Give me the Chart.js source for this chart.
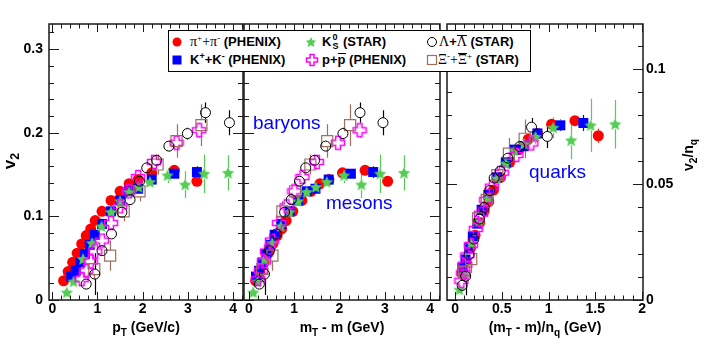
<!DOCTYPE html>
<html>
<head>
<meta charset="utf-8">
<script src="https://cdn.jsdelivr.net/npm/chart.js@4.4.1/dist/chart.umd.min.js"></script>
<style>
html,body{margin:0;padding:0;background:#fff;overflow:hidden;}
#wrap{position:relative;width:721px;height:354px;overflow:hidden;background:#fff;}
#wrap canvas.ch{position:absolute;left:0;top:0;}
.lbl{position:absolute;white-space:nowrap;font-family:"Liberation Sans",Arial,sans-serif;font-weight:bold;color:#000;}
.lbl sub{font-size:0.72em;vertical-align:-0.35em;line-height:0;}
.rot{transform:rotate(-90deg);text-align:center;}
.note{position:absolute;white-space:nowrap;font-family:"Liberation Sans",Arial,sans-serif;font-size:19px;line-height:19px;color:#0000ff;}
#legend{position:absolute;left:168px;top:30px;width:363px;height:42px;border:1.5px solid #000;background:#fff;box-sizing:border-box;}
.lt{position:absolute;white-space:nowrap;font-family:"Liberation Sans",Arial,sans-serif;font-weight:bold;font-size:13px;line-height:16px;height:16px;color:#000;}
.lt sup{font-size:9px;vertical-align:5px;line-height:0;}
.lt .g{font-family:"Liberation Serif","Times New Roman",serif;font-weight:normal;font-size:14px;}
.lt .ov{display:inline-block;border-top:1.4px solid #000;line-height:12px;}
.lt .ovp{display:inline-block;border-top:1.6px solid #000;line-height:11px;}
.ss{display:inline-block;position:relative;width:8px;height:10px;vertical-align:0;}
.ss span{position:absolute;left:1px;font-size:9px;line-height:9px;}
.mk{position:absolute;}
</style>
</head>
<body>
<div id="wrap">
  <canvas id="c1" class="ch" width="721" height="354"></canvas>
  <canvas id="c2" class="ch" width="721" height="354"></canvas>
  <canvas id="c3" class="ch" width="721" height="354"></canvas>

  <div class="note" style="left:253px;top:113px;">baryons</div>
  <div class="note" style="left:326px;top:193px;">mesons</div>
  <div class="note" style="left:529px;top:162px;">quarks</div>

  <div class="lbl rot" style="left:-20px;top:150px;width:60px;height:22px;line-height:22px;font-size:17px;">v<sub>2</sub></div>
  <div class="lbl rot" style="left:658px;top:144px;width:60px;height:22px;line-height:22px;font-size:14px;">v<sub>2</sub>/n<sub>q</sub></div>
  <div class="lbl" style="left:66px;top:318px;width:160px;text-align:center;font-size:14px;line-height:18px;">p<sub>T</sub> (GeV/c)</div>
  <div class="lbl" style="left:262px;top:318px;width:160px;text-align:center;font-size:14px;line-height:18px;">m<sub>T</sub> - m (GeV)</div>
  <div class="lbl" style="left:455px;top:318px;width:180px;text-align:center;font-size:14px;line-height:18px;">(m<sub>T</sub> - m)/n<sub>q</sub> (GeV)</div>

  <div id="legend"></div>
  <div class="lt" style="left:190px;top:34px;"><span class="g">&pi;<sup>+</sup>+&pi;<sup>-</sup></span> (PHENIX)</div>
  <div class="lt" style="left:190px;top:52px;">K<sup>+</sup>+K<sup>-</sup> (PHENIX)</div>
  <div class="lt" style="left:322px;top:34px;">K<span class="ss"><span style="top:-3px;">0</span><span style="top:6px;">S</span></span> (STAR)</div>
  <div class="lt" style="left:322px;top:52px;">p+<span class="ovp">p</span> (PHENIX)</div>
  <div class="lt" style="left:439px;top:34px;"><span class="g">&Lambda;</span>+<span class="g ov">&Lambda;</span> (STAR)</div>
  <div class="lt" style="left:438px;top:52px;"><span class="g">&Xi;<sup>-</sup>+<span class="ov">&Xi;</span><sup>+</sup></span> (STAR)</div>
</div>
<script>
// ================= DATA =================
// pi+ + pi- (PHENIX)
const pionPt    = [0.25,0.35,0.45,0.55,0.65,0.75,0.85,0.95,1.1,1.3,1.5,1.7,1.9,2.2,2.7,3.2];
const pionV2    = [0.023,0.034,0.045,0.056,0.067,0.077,0.085,0.095,0.106,0.119,0.130,0.139,0.144,0.152,0.155,0.142];
const pionErr   = [0.002,0.002,0.002,0.002,0.002,0.002,0.002,0.002,0.002,0.002,0.002,0.002,0.003,0.003,0.004,0.006];
const pionKet   = [0.147,0.237,0.332,0.428,0.525,0.623,0.722,0.821,0.969,1.168,1.367,1.566,1.766,2.065,2.564,3.063];
const pionKetNq = [0.074,0.119,0.166,0.214,0.263,0.312,0.361,0.411,0.485,0.584,0.684,0.783,0.883,1.033,1.282,1.532];
const pionV2Nq  = [0.0115,0.017,0.0225,0.028,0.0335,0.0385,0.0425,0.0475,0.053,0.0595,0.065,0.0695,0.072,0.076,0.0775,0.071];
const pionErrNq = [0.001,0.001,0.001,0.001,0.001,0.001,0.001,0.001,0.001,0.001,0.001,0.001,0.0015,0.0015,0.002,0.003];

// K+ + K- (PHENIX)
const kaonPt    = [0.42,0.52,0.62,0.72,0.83,0.94,1.1,1.3,1.5,1.7,1.9,2.2,2.7,3.2];
const kaonV2    = [0.028,0.035,0.045,0.055,0.066,0.078,0.091,0.106,0.119,0.130,0.133,0.144,0.151,0.153];
const kaonErr   = [0.003,0.003,0.003,0.003,0.003,0.003,0.003,0.003,0.003,0.003,0.004,0.004,0.005,0.007];
const kaonKet   = [0.155,0.223,0.299,0.379,0.472,0.568,0.712,0.897,1.086,1.277,1.469,1.761,2.251,2.744];
const kaonKetNq = [0.078,0.112,0.150,0.190,0.236,0.284,0.356,0.449,0.543,0.639,0.735,0.881,1.126,1.372];
const kaonV2Nq  = [0.014,0.0175,0.0225,0.0275,0.033,0.039,0.0455,0.053,0.0595,0.065,0.0665,0.072,0.0755,0.0765];
const kaonErrNq = [0.0015,0.0015,0.0015,0.0015,0.0015,0.0015,0.0015,0.0015,0.0015,0.0015,0.002,0.002,0.0025,0.0035];

// K0s (STAR)
const k0Pt    = [0.32,0.47,0.68,0.88,1.09,1.30,1.50,1.70,1.91,2.16,2.55,2.94,3.36,3.89];
const k0V2    = [0.009,0.022,0.049,0.068,0.088,0.105,0.118,0.129,0.135,0.141,0.149,0.138,0.151,0.152];
const k0Err   = [0.004,0.003,0.003,0.003,0.003,0.003,0.003,0.004,0.005,0.006,0.009,0.016,0.023,0.021];
const k0Ket   = [0.094,0.187,0.345,0.513,0.701,0.894,1.083,1.274,1.476,1.719,2.100,2.484,2.899,3.424];
const k0KetNq = [0.047,0.094,0.173,0.257,0.351,0.447,0.542,0.637,0.738,0.860,1.050,1.242,1.450,1.712];
const k0V2Nq  = [0.0045,0.011,0.0245,0.034,0.044,0.0525,0.059,0.0645,0.0675,0.0705,0.0745,0.069,0.0755,0.076];
const k0ErrNq = [0.002,0.0015,0.0015,0.0015,0.0015,0.0015,0.0015,0.002,0.0025,0.003,0.0045,0.008,0.0115,0.0105];

// p + pbar (PHENIX)
const protonPt    = [0.65,0.75,0.85,0.95,1.1,1.3,1.5,1.7,1.9,2.25,2.75,3.25];
const protonV2    = [0.025,0.035,0.046,0.058,0.071,0.092,0.112,0.130,0.147,0.165,0.188,0.203];
const protonErr   = [0.003,0.003,0.003,0.003,0.003,0.003,0.003,0.004,0.004,0.005,0.007,0.009];
const protonKet   = [0.203,0.263,0.328,0.397,0.508,0.665,0.831,1.003,1.181,1.499,1.967,2.444];
const protonKetNq = [0.068,0.088,0.109,0.132,0.169,0.222,0.277,0.334,0.394,0.500,0.656,0.815];
const protonV2Nq  = [0.0083,0.0117,0.0153,0.0193,0.0237,0.0307,0.0373,0.0433,0.049,0.055,0.0627,0.0677];
const protonErrNq = [0.001,0.001,0.001,0.001,0.001,0.001,0.001,0.0013,0.0013,0.0017,0.0023,0.003];

// Lambda + Lambdabar (STAR)
const lambdaPt    = [0.75,0.94,1.10,1.31,1.54,1.72,1.93,2.09,2.31,2.58,2.99,3.39,3.92];
const lambdaV2    = [0.019,0.031,0.059,0.079,0.105,0.120,0.142,0.158,0.167,0.184,0.199,0.224,0.212];
const lambdaErr   = [0.004,0.025,0.004,0.004,0.004,0.004,0.004,0.005,0.006,0.006,0.007,0.012,0.015];
const lambdaKet   = [0.229,0.343,0.451,0.605,0.786,0.935,1.114,1.253,1.450,1.695,2.076,2.453,2.960];
const lambdaKetNq = [0.076,0.114,0.150,0.202,0.262,0.312,0.371,0.418,0.483,0.565,0.692,0.818,0.987];
const lambdaV2Nq  = [0.0063,0.0103,0.0197,0.0263,0.035,0.040,0.0473,0.0527,0.0557,0.0613,0.0663,0.0747,0.0707];
const lambdaErrNq = [0.0013,0.0083,0.0013,0.0013,0.0013,0.0013,0.0013,0.0017,0.002,0.002,0.0023,0.004,0.005];

// Xi- + Xibar+ (STAR)
const xiPt    = [0.93,1.28,1.58,1.93,2.33,2.75,3.30];
const xiV2    = [0.037,0.053,0.106,0.130,0.162,0.190,0.209];
const xiErr   = [0.012,0.018,0.012,0.012,0.012,0.020,0.025];
const xiKet   = [0.294,0.518,0.738,1.018,1.357,1.729,2.233];
const xiKetNq = [0.098,0.173,0.246,0.339,0.452,0.576,0.744];
const xiV2Nq  = [0.0123,0.0177,0.0353,0.0433,0.054,0.0633,0.0697];
const xiErrNq = [0.004,0.006,0.004,0.004,0.004,0.0067,0.0083];

// axis tick settings
const panel1XTicks = {min:-0.073, max:4.22, step:1, minor:0.2};
const panel2XTicks = {min:-0.11, max:4.22, step:1, minor:0.2};
const panel3XTicks = {min:-0.086, max:2.01, step:0.5, minor:0.1};
const v2Ticks   = {min:0, max:0.33, step:0.1, minor:0.02};
const v2NqTicks = {min:0, max:0.1193, step:0.05, minor:0.01};

// ================= STYLE =================
const FONT = '"Liberation Sans", Arial, Helvetica, sans-serif';
const RED='#ff0000', BLUE='#0000ff', GREEN='#55cc55', MAG='#ff00ff', BLACK='#000000', BROWN='#9a7060';

function starPath(g, cx, cy, R, ratio){
  g.beginPath();
  for (let i=0;i<10;i++){
    const r = (i%2) ? R*ratio : R;
    const a = -Math.PI/2 + i*Math.PI/5;
    const px = cx + r*Math.cos(a), py = cy + r*Math.sin(a);
    if (i===0) g.moveTo(px,py); else g.lineTo(px,py);
  }
  g.closePath();
}
function crossPath(g, cx, cy, R, a){
  const p=[[-a,-R],[a,-R],[a,-a],[R,-a],[R,a],[a,a],[a,R],[-a,R],[-a,a],[-R,a],[-R,-a],[-a,-a]];
  g.beginPath();
  p.forEach((q,i)=>{ if(i===0) g.moveTo(cx+q[0],cy+q[1]); else g.lineTo(cx+q[0],cy+q[1]); });
  g.closePath();
}
function starImage(color, R){
  const c=document.createElement('canvas'); const s=Math.ceil(2*R+3); c.width=c.height=s;
  const g=c.getContext('2d'); g.fillStyle=color; starPath(g, s/2, s/2+0.5, R, 0.48); g.fill(); return c;
}
function crossImage(color, R, a, lw){
  const c=document.createElement('canvas'); const s=Math.ceil(2*R+3); c.width=c.height=s;
  const g=c.getContext('2d'); g.strokeStyle=color; g.lineWidth=lw; crossPath(g, s/2, s/2, R, a); g.stroke(); return c;
}
const starPt  = starImage(GREEN, 6.5);
const crossPt = crossImage(MAG, 6.5, 2.4, 1.5);

function pts(xs, ys){ return xs.map((x,i)=>({x:x, y:ys[i]})); }

function datasets(s){
  return [
    {label:'Lambda', data:pts(s.lam[0], s.lam[1]), errs:s.lam[2], errColor:BLACK, gap:5,
     pointStyle:'circle', pointRadius:5, pointBackgroundColor:'rgba(0,0,0,0)', pointBorderColor:BLACK, pointBorderWidth:1, order:1},
    {label:'Xi', data:pts(s.xi[0], s.xi[1]), errs:s.xi[2], errColor:BROWN, gap:5.5,
     pointStyle:'rect', pointRadius:7.8, pointBackgroundColor:'rgba(0,0,0,0)', pointBorderColor:BROWN, pointBorderWidth:1.2, order:2},
    {label:'p', data:pts(s.pr[0], s.pr[1]), errs:s.pr[2], errColor:MAG, gap:6.5,
     pointStyle:crossPt, pointRadius:7, order:3},
    {label:'K0s', data:pts(s.k0[0], s.k0[1]), errs:s.k0[2], errColor:GREEN, gap:5,
     pointStyle:starPt, pointRadius:7, order:4},
    {label:'K', data:pts(s.ka[0], s.ka[1]), errs:s.ka[2], errColor:BLUE, gap:5,
     pointStyle:'rect', pointRadius:7.07, pointBackgroundColor:BLUE, pointBorderColor:BLUE, pointBorderWidth:0, order:5},
    {label:'pi', data:pts(s.pi[0], s.pi[1]), errs:s.pi[2], errColor:RED, gap:5.5,
     pointStyle:'circle', pointRadius:5.5, pointBackgroundColor:RED, pointBorderColor:RED, pointBorderWidth:0, order:6}
  ];
}

const errPlugin = {
  id:'errbars',
  beforeDatasetsDraw(chart){
    const ctx=chart.ctx, ys=chart.scales.y, a=chart.chartArea;
    ctx.save();
    ctx.beginPath(); ctx.rect(a.left, a.top, a.right-a.left, a.bottom-a.top); ctx.clip();
    chart.data.datasets.forEach((ds,i)=>{
      const meta=chart.getDatasetMeta(i);
      ctx.strokeStyle=ds.errColor; ctx.lineWidth=1.2;
      meta.data.forEach((el,j)=>{
        const v=ds.data[j].y, e=ds.errs[j];
        const y1=ys.getPixelForValue(v+e), y2=ys.getPixelForValue(v-e);
        const px=Math.round(el.x)+0.5, r=ds.gap;
        ctx.beginPath();
        if (y1 < el.y - r){ ctx.moveTo(px,y1); ctx.lineTo(px,el.y-r); }
        if (y2 > el.y + r){ ctx.moveTo(px,el.y+r); ctx.lineTo(px,y2); }
        ctx.stroke();
      });
    });
    ctx.restore();
  }
};

const framePlugin = {
  id:'frameTicks',
  afterDraw(chart, args, o){
    const ctx=chart.ctx, a=chart.chartArea, xs=chart.scales.x, ys=chart.scales.y;
    ctx.save();
    ctx.strokeStyle='#1a1a1a'; ctx.lineWidth=1;
    ctx.beginPath();
    const kx0=Math.ceil(xs.min/o.xMinor-1e-6), kx1=Math.floor(xs.max/o.xMinor+1e-6);
    for (let k=kx0;k<=kx1;k++){
      const px=Math.round(xs.getPixelForValue(k*o.xMinor))+0.5;
      const L=(Math.abs(k)%o.xEvery===0)?8:4.5;
      ctx.moveTo(px,a.bottom); ctx.lineTo(px,a.bottom-L);
      ctx.moveTo(px,a.top); ctx.lineTo(px,a.top+L);
    }
    const ky0=Math.ceil(ys.min/o.yMinor-1e-6), ky1=Math.floor(ys.max/o.yMinor+1e-6);
    for (let k=ky0;k<=ky1;k++){
      const py=Math.round(ys.getPixelForValue(k*o.yMinor))+0.5;
      const L=(Math.abs(k)%o.yEvery===0)?10:5;
      ctx.moveTo(a.left,py); ctx.lineTo(a.left+L,py);
      ctx.moveTo(a.right,py); ctx.lineTo(a.right-L,py);
    }
    ctx.stroke();
    ctx.lineWidth=1.5;
    ctx.strokeRect(a.left, a.top, a.right-a.left, a.bottom-a.top);
    ctx.restore();
  }
};

const fmt = v => String(Math.round(v*1000)/1000);

function makePanel(id, sets, xt, yt, o){
  return new Chart(document.getElementById(id), {
    type:'scatter',
    data:{datasets:datasets(sets)},
    options:{
      responsive:false, animation:false, events:[], devicePixelRatio:1,
      layout:{padding:o.pad},
      plugins:{legend:{display:false}, tooltip:{enabled:false},
        frameTicks:{xMinor:xt.minor, xEvery:Math.round(xt.step/xt.minor), yMinor:yt.minor, yEvery:Math.round(yt.step/yt.minor)}},
      scales:{
        x:{type:'linear', position:'bottom', min:xt.min, max:xt.max,
           afterFit:s=>{s.height=54;},
           grid:{display:false, drawTicks:false}, border:{display:false},
           ticks:{stepSize:xt.step, includeBounds:false, autoSkip:false, maxRotation:0, padding:1,
                  color:'#000', font:{family:FONT, size:14, weight:'bold'}, callback:fmt}},
        y:{type:'linear', position:o.yPos, display:o.yShow, min:yt.min, max:yt.max,
           afterFit:s=>{s.width=o.yW;},
           grid:{display:false, drawTicks:false}, border:{display:false},
           ticks:{stepSize:yt.step, includeBounds:false, autoSkip:false, padding:o.yPad,
                  color:'#000', font:{family:FONT, size:14, weight:'bold'}, callback:fmt}}
      }
    },
    plugins:[errPlugin, framePlugin]
  });
}

makePanel('c1', {
  pi:[pionPt,pionV2,pionErr], ka:[kaonPt,kaonV2,kaonErr], k0:[k0Pt,k0V2,k0Err],
  pr:[protonPt,protonV2,protonErr], lam:[lambdaPt,lambdaV2,lambdaErr], xi:[xiPt,xiV2,xiErr]
}, panel1XTicks, v2Ticks, {pad:{left:0,right:478,top:24,bottom:0}, yPos:'left', yShow:true, yW:49, yPad:6});

makePanel('c2', {
  pi:[pionKet,pionV2,pionErr], ka:[kaonKet,kaonV2,kaonErr], k0:[k0Ket,k0V2,k0Err],
  pr:[protonKet,protonV2,protonErr], lam:[lambdaKet,lambdaV2,lambdaErr], xi:[xiKet,xiV2,xiErr]
}, panel2XTicks, v2Ticks, {pad:{left:244,right:281,top:24,bottom:0}, yPos:'left', yShow:false, yW:0, yPad:6});

makePanel('c3', {
  pi:[pionKetNq,pionV2Nq,pionErrNq], ka:[kaonKetNq,kaonV2Nq,kaonErrNq], k0:[k0KetNq,k0V2Nq,k0ErrNq],
  pr:[protonKetNq,protonV2Nq,protonErrNq], lam:[lambdaKetNq,lambdaV2Nq,lambdaErrNq], xi:[xiKetNq,xiV2Nq,xiErrNq]
}, panel3XTicks, v2NqTicks, {pad:{left:447,right:38,top:24,bottom:0}, yPos:'right', yShow:true, yW:40, yPad:3});

// ================= LEGEND MARKERS =================
const wrap=document.getElementById('wrap');
function legendMarker(cx, cy, draw){
  const c=document.createElement('canvas'); c.width=18; c.height=18; c.className='mk';
  c.style.left=(cx-9)+'px'; c.style.top=(cy-9)+'px';
  draw(c.getContext('2d'), 9, 9); wrap.appendChild(c);
}
legendMarker(177, 42, (g,x,y)=>{ g.fillStyle=RED; g.beginPath(); g.arc(x,y,4.5,0,2*Math.PI); g.fill(); });
legendMarker(177, 60, (g,x,y)=>{ g.fillStyle=BLUE; g.fillRect(x-4.5,y-4.5,9,9); });
legendMarker(311, 42, (g,x,y)=>{ g.fillStyle=GREEN; starPath(g,x,y+0.5,5.5,0.48); g.fill(); });
legendMarker(312, 60, (g,x,y)=>{ g.strokeStyle=MAG; g.lineWidth=1.5; crossPath(g,x,y,5.5,2); g.stroke(); });
legendMarker(432, 42, (g,x,y)=>{ g.strokeStyle=BLACK; g.lineWidth=1; g.beginPath(); g.arc(x,y,4.5,0,2*Math.PI); g.stroke(); });
legendMarker(432, 60, (g,x,y)=>{ g.strokeStyle=BROWN; g.lineWidth=1.2; g.strokeRect(x-4.5,y-4.5,9,9); });
</script>
</body>
</html>
